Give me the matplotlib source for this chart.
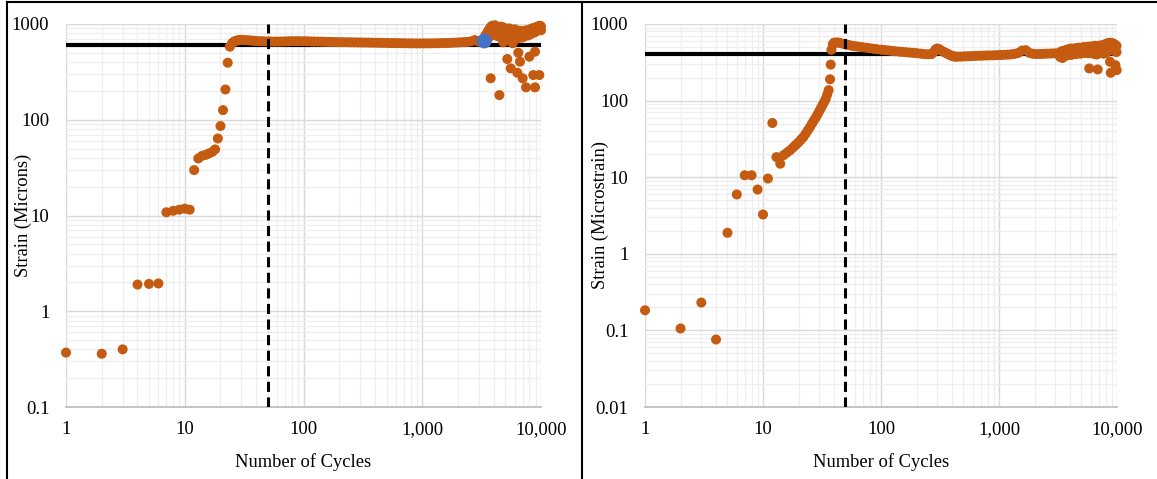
import matplotlib
matplotlib.use("Agg")
import matplotlib.pyplot as plt
from matplotlib.ticker import NullFormatter, LogLocator
from matplotlib.lines import Line2D

plt.rcParams['font.family'] = ['Liberation Serif', 'DejaVu Serif']

ORANGE = "#C55A11"
BLUE = "#4472C4"

# ---------------- Left panel data (Strain in Microns) ----------------
left_early_x = [1, 2, 3, 4, 5, 6, 7, 8, 9, 10, 11, 12, 13, 14, 15, 16, 17, 18, 19, 20, 21, 22, 23, 24]
left_early_y = [0.37, 0.36, 0.40, 1.90, 1.93, 1.95, 10.8, 11.2, 11.5, 11.8, 11.5, 29.8, 39.4, 42, 43, 44.5,
                46, 49, 63.7, 86, 126, 207, 394, 580]

left_plateau_x = [25, 26, 27, 28, 29, 30, 32, 34, 36, 38,
                  40, 43, 46, 50, 53, 57, 61, 65, 70, 75,
                  80, 86, 92, 100, 107, 115, 123, 132, 142, 152,
                  163, 175, 188, 202, 217, 233, 250, 268, 288, 309,
                  332, 356, 382, 410, 440, 472, 507, 544, 584, 627,
                  673, 722, 775, 832, 893, 958, 1028, 1103, 1184, 1271,
                  1364, 1464, 1571, 1686, 1810, 1942, 2085, 2237, 2401, 2577,
                  2766, 2968, 3186]
left_plateau_y = [630, 655, 668, 675, 680, 682, 680, 676, 672, 668,
                  665, 662, 660, 658, 656, 655, 655, 656, 658, 660,
                  661, 662, 662, 661, 660, 658, 656, 655, 654, 652,
                  650, 649, 648, 647, 646, 645, 644, 643, 642, 641,
                  640, 639, 638, 637, 636, 635, 634, 633, 632, 631,
                  630, 629, 628, 628, 627, 627, 627, 628, 628, 629,
                  630, 632, 633, 635, 637, 640, 643, 646, 650, 660,
                  680, 655, 650]

left_end_x = [3400, 3500, 3600, 3700, 3800, 3900, 4000, 4100, 4200, 4400,
              4600, 4800, 5000, 5200, 5400, 5600, 5800, 6000, 6200, 6400,
              6600, 6800, 7000, 7200, 7400, 7600, 7800, 8000, 8200, 8400,
              8600, 8800, 9000, 9200, 9400, 9600, 9800, 10000]
left_end_upper = [760, 800, 850, 900, 940, 960, 950, 970, 930, 900,
                  940, 920, 900, 880, 900, 870, 860, 880, 850, 830,
                  850, 820, 840, 830, 850, 860, 840, 870, 880, 900,
                  890, 910, 920, 930, 940, 950, 960, 940]
left_end_lower = [680, 700, 720, 740, 760, 780, 800, 790, 760, 740,
                  780, 760, 740, 720, 740, 710, 720, 730, 700, 720,
                  740, 720, 730, 740, 760, 770, 760, 780, 790, 800,
                  810, 820, 830, 850, 860, 870, 880, 860]

left_drop_x = [3770, 4460, 4820, 5200, 5560, 5770, 6320, 6440, 6650, 7010, 7480, 7980, 8610, 8900, 8900, 9680]
left_drop_y = [271, 181, 644, 431, 344, 629, 310, 501, 404, 271, 218, 456, 293, 514, 218, 293]

left_marker_x = [3330]
left_marker_y = [665]
left_limit = 600

# ---------------- Right panel data (Microstrain) ----------------
right_early_x = [1, 2, 3, 4, 5, 6, 7, 8, 9, 10, 11, 12, 13, 14, 15,
                 16, 17, 18, 19, 20, 21, 22, 23, 24, 25, 26, 27, 28, 29, 30,
                 31, 32, 33, 34, 35, 36, 37]
right_early_y = [0.183, 0.106, 0.231, 0.076, 1.88, 5.95, 10.6, 10.6, 6.9, 3.26, 9.6, 51, 18.3, 15, 19.5,
                 21, 22.5, 24.5, 26.5, 28.5, 31, 33.5, 37, 41, 45, 50, 55, 60, 66, 73,
                 80, 88, 96, 105, 120, 137, 190]

right_plateau_x = [37.5, 38, 39, 40, 42, 44, 46, 49, 52, 55, 58,
                   62, 66, 70, 75, 80, 86, 92, 100, 107, 115,
                   123, 132, 142, 152, 163, 175, 188, 202, 217, 233,
                   250, 268, 280, 290, 300, 310, 320, 332, 345, 356,
                   370, 382, 396, 410, 425, 440, 472, 507, 544, 584,
                   627, 673, 722, 775, 832, 893, 958, 1028, 1103, 1184,
                   1271, 1364, 1464, 1571, 1686, 1810, 1942, 2085, 2237, 2401,
                   2577, 2766, 2968, 3186]
right_plateau_y = [295, 460, 540, 570, 575, 570, 560, 545, 535, 525, 518,
                   510, 503, 497, 490, 483, 476, 469, 462, 457, 452,
                   446, 441, 436, 432, 428, 424, 420, 416, 410, 405,
                   402, 405, 430, 465, 478, 470, 455, 440, 428, 418,
                   405, 395, 385, 378, 375, 374, 375, 377, 379, 381,
                   383, 385, 386, 388, 389, 390, 392, 394, 396, 398,
                   402, 408, 420, 450, 455, 420, 408, 405, 406, 408,
                   410, 412, 414, 412]

right_end_x = [3300, 3450, 3600, 3750, 3900, 4100, 4300, 4500, 4700, 4900,
               5100, 5300, 5500, 5700, 5900, 6100, 6300, 6500, 6700, 6900,
               7100, 7300, 7500, 7700, 7900, 8100, 8300, 8500, 8700, 8900,
               9100, 9300, 9500, 9700, 9900]
right_end_upper = [430, 445, 450, 460, 470, 480, 470, 485, 490, 480,
                   495, 500, 490, 505, 495, 510, 500, 520, 505, 515,
                   520, 510, 530, 520, 540, 550, 560, 555, 570, 560,
                   565, 550, 545, 530, 520]
right_end_lower = [370, 360, 380, 390, 400, 395, 410, 405, 420, 410,
                   425, 420, 430, 415, 420, 430, 410, 425, 400, 410,
                   420, 430, 440, 410, 430, 420, 440, 450, 460, 470,
                   455, 460, 450, 440, 430]

right_drop_x = [5820, 6860, 8730, 8850, 9700, 9940]
right_drop_y = [263, 255, 321, 231, 290, 250]
right_limit = 400

cycle_line = 50
x_ticks = [1, 10, 100, 1000, 10000]
x_labels = ["1", "10", "100", "1,000", "10,000"]
left_y_ticks = [0.1, 1, 10, 100, 1000]
left_y_labels = ["0.1", "1", "10", "100", "1000"]
right_y_ticks = [0.01, 0.1, 1, 10, 100, 1000]
right_y_labels = ["0.01", "0.1", "1", "10", "100", "1000"]

W, H = 1157, 479
fig = plt.figure(figsize=(W / 100, H / 100), dpi=100)

ax1 = fig.add_axes([66 / W, 1 - 407 / H, (541 - 66) / W, (407 - 24) / H])
ax2 = fig.add_axes([645 / W, 1 - 407 / H, (1117 - 645) / W, (407 - 24) / H])

MS = 52


def style(ax, yticks, ylabels, ylim, ylabel, ylabel_x):
    ax.set_xscale("log")
    ax.set_yscale("log")
    ax.set_xlim(1, 10000)
    ax.set_ylim(*ylim)
    ax.set_xticks(x_ticks)
    ax.set_xticklabels(x_labels)
    ax.set_yticks(yticks)
    ax.set_yticklabels(ylabels)
    ax.xaxis.set_minor_locator(LogLocator(base=10, subs=range(2, 10)))
    ax.yaxis.set_minor_locator(LogLocator(base=10, subs=range(2, 10)))
    ax.xaxis.set_minor_formatter(NullFormatter())
    ax.yaxis.set_minor_formatter(NullFormatter())
    ax.tick_params(which="both", length=0, labelsize=13.5, colors="#000000")
    ax.tick_params(axis="y", pad=12)
    ax.tick_params(axis="x", pad=10)
    ax.grid(which="major", color="#D9D9D9", linewidth=1.0, zorder=0)
    ax.grid(which="minor", color="#EEEEEE", linewidth=0.9, zorder=0)
    ax.set_axisbelow(True)
    for s in ["left", "right", "top"]:
        ax.spines[s].set_visible(False)
    ax.spines["bottom"].set_color("#BFBFBF")
    ax.spines["bottom"].set_linewidth(1.3)
    ax.set_xlabel("Number of Cycles", fontsize=13.3, labelpad=11)
    ax.set_ylabel(ylabel, fontsize=13.3)
    ax.yaxis.set_label_coords(ylabel_x, 0.5)


style(ax1, left_y_ticks, left_y_labels, (0.1, 1000), "Strain (Microns)", (32 - 66) / 475)
style(ax2, right_y_ticks, right_y_labels, (0.01, 1000), "Strain (Microstrain)", (609 - 645) / 472)

# Left panel
ax1.plot([1, 10000], [left_limit, left_limit], color="black", linewidth=3.0, zorder=2, solid_capstyle="butt")
for xs, ys in [(left_early_x, left_early_y), (left_plateau_x, left_plateau_y),
               (left_end_x, left_end_lower), (left_end_x, left_end_upper),
               (left_drop_x, left_drop_y)]:
    ax1.scatter(xs, ys, s=MS, color=ORANGE, edgecolors="none", zorder=3, clip_on=False)
ax1.scatter(left_marker_x, left_marker_y, s=115, color=BLUE, edgecolors="none", zorder=4)
ax1.axvline(cycle_line, color="black", linewidth=2.2, linestyle=(0, (3.3, 1.8)), zorder=5)

# Right panel
ax2.plot([1, 10000], [right_limit, right_limit], color="black", linewidth=3.0, zorder=2, solid_capstyle="butt")
for xs, ys in [(right_early_x, right_early_y), (right_plateau_x, right_plateau_y),
               (right_end_x, right_end_lower), (right_end_x, right_end_upper),
               (right_drop_x, right_drop_y)]:
    ax2.scatter(xs, ys, s=MS, color=ORANGE, edgecolors="none", zorder=3, clip_on=False)
ax2.axvline(cycle_line, color="black", linewidth=2.2, linestyle=(0, (3.3, 1.8)), zorder=5)

# Frame lines (table borders)
fig.add_artist(Line2D([6.5 / W, 6.5 / W], [0, 1 - 2 / H], transform=fig.transFigure, color="black", linewidth=1.5))
fig.add_artist(Line2D([582 / W, 582 / W], [0, 1 - 2 / H], transform=fig.transFigure, color="black", linewidth=1.5))
fig.add_artist(Line2D([6.5 / W, 1], [1 - 2 / H, 1 - 2 / H], transform=fig.transFigure, color="black", linewidth=1.5))

fig.savefig("out.png", dpi=100)
